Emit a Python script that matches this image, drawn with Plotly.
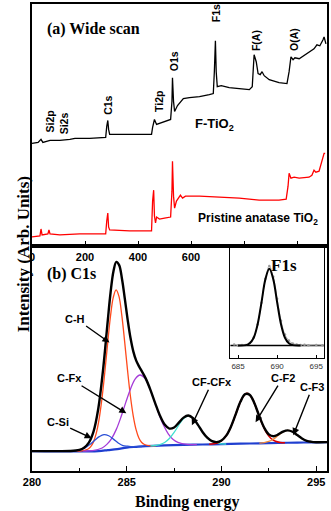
import plotly.graph_objects as go

# ---- (a) wide scan: binding energy (eV) vs intensity (arb.) ----
wide_be_f = [0, 23, 34, 41, 68, 105, 143, 162, 218, 278, 282, 286, 289, 293, 301, 368, 451, 455,
             462, 470, 481, 500, 523, 528, 530, 534, 538, 549, 560, 571, 594, 632, 669, 684, 688,
             692, 695, 699, 714, 744, 782, 820, 831, 838, 846, 853, 861, 868, 876, 895, 932, 962,
             970, 977, 985, 992, 1008, 1026, 1045, 1064, 1075, 1086, 1098, 1102, 1109]
wide_f = [103, 104, 107, 104, 106, 106, 107, 108, 108, 109, 120, 126, 117, 112, 112, 112, 112, 119,
          127, 122, 123, 125, 127, 145, 169, 145, 135, 141, 145, 148, 149, 150, 152, 153, 175,
          206, 175, 160, 161, 159, 158, 157, 160, 192, 185, 173, 172, 175, 171, 167, 164, 163,
          175, 190, 187, 189, 188, 191, 195, 198, 202, 201, 207, 210, 203]

wide_be_p = [0, 30, 34, 38, 60, 64, 68, 105, 180, 278, 282, 286, 289, 293, 368, 451, 455, 459,
             462, 466, 470, 481, 500, 523, 528, 530, 534, 538, 545, 560, 568, 579, 632, 707, 782,
             857, 932, 959, 966, 970, 977, 989, 1008, 1045, 1056, 1064, 1071, 1083, 1090, 1102, 1106]
wide_p = [9, 10, 17, 11, 12, 16, 12, 11, 12, 12, 25, 33, 19, 16, 15, 15, 45, 56,
          30, 23, 29, 27, 28, 29, 55, 85, 50, 38, 45, 51, 48, 50, 50, 49, 48,
          46, 46, 47, 60, 73, 68, 69, 68, 69, 71, 76, 74, 75, 82, 93, 93]

wide_labels = ["Si2p", "Si2s", "C1s", "Ti2p", "O1s", "F1s", "F(A)", "O(A)"]
wide_label_be = [68, 124, 284, 477, 534, 695, 846, 989]
wide_label_y = [125, 123, 141, 145, 185, 234, 206, 207]

# ---- (b) C1s fit ----
c1s_be = [280, 281, 282, 282.5, 282.75, 283, 283.25, 283.5, 283.75, 284, 284.15, 284.3, 284.45,
          284.6, 284.75, 284.9, 285.05, 285.2, 285.35, 285.5, 285.65, 285.8, 286, 286.25, 286.5,
          286.75, 287, 287.25, 287.5, 287.75, 288, 288.25, 288.5, 288.75, 289, 289.25, 289.5,
          289.75, 290, 290.25, 290.5, 290.75, 291, 291.25, 291.5, 291.75, 292, 292.25, 292.5,
          292.75, 293, 293.25, 293.5, 293.75, 294, 294.25, 294.5, 294.75, 295, 295.6]
c1s_envelope = [20, 20, 20.1, 21.2, 23.4, 28.5, 39.8, 62.7, 101.5, 151.3, 179.7, 200.6, 210.0,
                206.7, 192.8, 172.9, 151.8, 133.5, 119.9, 110.8, 105.0, 100.0, 93.0, 81.5, 68.2,
                55.7, 46.6, 42.6, 43.7, 48.5, 53.6, 55.7, 53.0, 46.6, 39.2, 33.4, 29.9,
                29.0, 30.7, 35.5, 44.5, 56.9, 69.5, 77.2, 76.4, 67.5, 54.8, 43.7, 36.8,
                34.9, 36.7, 39.5, 40.8, 39.4, 36.1, 32.7, 30.3, 29.3, 28.9, 29.0]

bg_be = [280, 283.5, 284, 284.5, 285, 285.5, 286, 287, 288, 289, 290, 291, 292, 293, 294, 295, 295.6]
bg = [20, 20, 21, 22, 23.5, 24.3, 25, 25.8, 26.3, 26.6, 27, 27.4, 27.8, 28.2, 28.5, 28.8, 29]

ch_be = [282.34, 282.64, 282.94, 283.09, 283.24, 283.39, 283.54, 283.69, 283.84, 283.99, 284.14,
         284.29, 284.44, 284.59, 284.74, 284.89, 285.04, 285.19, 285.34, 285.49, 285.64, 285.79,
         285.94, 286.24, 286.54]
ch = [20.0, 20.2, 21.8, 24.2, 29.0, 37.8, 51.9, 72.4, 98.6, 127.7, 154.9, 174.3, 181.9, 175.3,
      156.2, 129.9, 101.5, 75.8, 55.7, 41.8, 33.2, 28.6, 26.6, 25.3, 25.3]

cfx_be = [282.7, 283.2, 283.7, 283.95, 284.2, 284.45, 284.7, 284.95, 285.2, 285.45, 285.7, 285.95,
          286.2, 286.45, 286.7, 286.95, 287.2, 287.45, 287.7, 288.2, 288.7]
cfx = [20, 20.4, 23.1, 26.7, 32.6, 41.8, 54.4, 68.9, 82.4, 92.5, 96.4, 93.2, 83.7, 70.7, 57.2,
       45.6, 37.1, 31.7, 28.8, 26.7, 26.5]

csi_be = [281.8, 282.3, 282.55, 282.8, 283.05, 283.3, 283.55, 283.8, 284.05, 284.3, 284.55, 284.8,
          285.05, 285.3, 285.8]
csi = [20, 20.4, 21.3, 23.2, 26.5, 30.7, 34.5, 36.6, 35.4, 32.0, 28.2, 25.5, 24.9, 24.4, 24.6]

cfcfx_be = [286.25, 286.5, 286.75, 287.0, 287.25, 287.5, 287.75, 288.0, 288.25, 288.5, 288.75,
            289.0, 289.25, 289.5, 289.75, 290.0, 290.25]
cfcfx = [25.2, 25.6, 26.6, 28.6, 32.6, 38.7, 46.2, 52.7, 55.4, 52.9, 46.6, 39.2, 33.3, 29.6,
         27.9, 27.3, 27.1]

cf2_be = [289.35, 289.6, 289.85, 290.1, 290.35, 290.6, 290.85, 291.1, 291.35, 291.6, 291.85,
          292.1, 292.35, 292.6, 292.85, 293.1, 293.35]
cf2 = [26.8, 27.3, 28.7, 31.9, 38.5, 49.1, 62.1, 73.4, 78.0, 73.6, 62.5, 49.7, 39.3, 32.9,
       29.9, 28.7, 28.4]

cf3_be = [292.0, 292.25, 292.5, 292.75, 293.0, 293.25, 293.5, 293.75, 294.0, 294.25, 294.5,
          294.75, 295.0]
cf3 = [27.9, 28.5, 29.7, 32.2, 35.8, 39.3, 40.8, 39.4, 36.1, 32.7, 30.3, 29.3, 28.9]

# ---- inset F1s ----
f1s_be = [685, 686, 686.5, 687, 687.5, 688, 688.5, 689, 689.5, 690, 690.5, 691, 691.5, 692, 693]
f1s_fit = [13, 13.4, 15.2, 20.8, 34.2, 56.4, 79.7, 90, 79.7, 56.4, 34.2, 20.8, 15.2, 13.4, 13]
f1s_data_be = [684.5, 685, 685.5, 686, 686.5, 687, 687.5, 688, 688.5, 689, 689.5, 690, 690.5,
               691, 691.5, 692, 692.5, 693, 693.5, 694, 695, 695.8]
f1s_data = [14, 13, 13.5, 13.5, 15.5, 21, 34, 56, 80, 93, 82, 60, 38, 24, 18, 15, 14, 13.5,
            13.8, 13.2, 13.5, 13.2]
f1s_base_be = [684, 696]
f1s_base = [13, 13]

SANS = "Liberation Sans"
SERIF = "Liberation Serif"

fig = go.Figure()

# top panel
fig.add_trace(go.Scatter(x=wide_be_f, y=wide_f, mode='lines', line=dict(color='black', width=1.3),
                         xaxis='x', yaxis='y'))
fig.add_trace(go.Scatter(x=wide_be_p, y=wide_p, mode='lines', line=dict(color='#ff0000', width=1.3),
                         xaxis='x', yaxis='y'))

# bottom panel components
comp = [
    (bg_be, bg, '#1f3fd0', 2.2),
    (ch_be, ch, '#ff4a1c', 1.3),
    (cfx_be, cfx, '#a53bd8', 1.3),
    (csi_be, csi, '#2a4fd6', 1.3),
    (cfcfx_be, cfcfx, '#3fe0d0', 1.3),
    (cf2_be, cf2, '#e00000', 1.6),
    (cf3_be, cf3, '#f08a3c', 1.3),
]
for xs, ys, col, w in comp:
    fig.add_trace(go.Scatter(x=xs, y=ys, mode='lines', line=dict(color=col, width=w, shape='spline'),
                             xaxis='x2', yaxis='y2'))
fig.add_trace(go.Scatter(x=c1s_be, y=c1s_envelope, mode='lines',
                         line=dict(color='black', width=2.4, shape='spline'),
                         xaxis='x2', yaxis='y2'))

# inset
fig.add_trace(go.Scatter(x=f1s_base_be, y=f1s_base, mode='lines', line=dict(color='black', width=1.3),
                         xaxis='x3', yaxis='y3'))
fig.add_trace(go.Scatter(x=f1s_data_be, y=f1s_data, mode='lines+markers',
                         line=dict(color='#999999', width=0.8, shape='spline'),
                         marker=dict(size=2.5, color='#999999'), xaxis='x3', yaxis='y3'))
fig.add_trace(go.Scatter(x=f1s_be, y=f1s_fit, mode='lines', line=dict(color='black', width=2, shape='spline'),
                         xaxis='x3', yaxis='y3'))

axis_common = dict(showline=True, linecolor='black', linewidth=1.6, mirror=True,
                   showgrid=False, zeroline=False)
tickfont = dict(family=SANS, size=11, color='black', weight='bold')

anns = []
anns.append(dict(text="(a) Wide scan", x=49, y=218, xref='x', yref='y', xanchor='left',
                 showarrow=False, font=dict(family=SERIF, size=16, color='black', weight='bold')))
for t, bx, by in zip(wide_labels, wide_label_be, wide_label_y):
    anns.append(dict(text=t, x=bx, y=by, xref='x', yref='y', textangle=-90, showarrow=False,
                     font=dict(family=SANS, size=10.5, color='black', weight='bold')))
anns.append(dict(text="F-TiO<sub>2</sub>", x=688, y=122, xref='x', yref='y', showarrow=False,
                 font=dict(family=SANS, size=13, color='black', weight='bold')))
anns.append(dict(text="Pristine anatase TiO<sub>2</sub>", x=851, y=27, xref='x', yref='y', showarrow=False,
                 font=dict(family=SANS, size=12, color='black', weight='bold')))

anns.append(dict(text="(b) C1s", x=280.68, y=198, xref='x2', yref='y2', xanchor='left',
                 showarrow=False, font=dict(family=SERIF, size=16, color='black', weight='bold')))
arrow_labels = [("C-H", 284.09, 129, -34, -24), ("C-Fx", 284.98, 58, -57, -35),
                ("C-Si", 283.15, 33, -34, -16), ("CF-CFx", 288.44, 46, 20, -43),
                ("C-F2", 291.80, 49, 27, -44), ("C-F3", 293.79, 36, 19, -48)]
for t, hx, hy, ax, ay in arrow_labels:
    anns.append(dict(text=t, x=hx, y=hy, xref='x2', yref='y2', ax=ax, ay=ay, showarrow=True,
                     arrowhead=2, arrowsize=1, arrowwidth=1.4, arrowcolor='black',
                     font=dict(family=SANS, size=11, color='black', weight='bold')))

anns.append(dict(text="F1s", x=(300 - 32) / 296, y=(471 - 265) / 469, xref='paper', yref='paper',
                 showarrow=False, font=dict(family=SERIF, size=17, color='black', weight='bold')))
anns.append(dict(text="Intensity (Arb. Units)", x=-0.068, y=0.465, xref='paper', yref='paper',
                 textangle=-90, showarrow=False,
                 font=dict(family=SERIF, size=17, color='black', weight='bold')))
anns.append(dict(text="Binding energy", x=0.524, y=-0.066, xref='paper', yref='paper',
                 yanchor='middle', showarrow=False,
                 font=dict(family=SERIF, size=16, color='black', weight='bold')))

fig.update_layout(
    width=331, height=511,
    margin=dict(l=32, r=3, t=2, b=40),
    paper_bgcolor='white', plot_bgcolor='white',
    showlegend=False,
    xaxis=dict(domain=[0, 1], anchor='y', range=[0, 1113], tickvals=[0, 200, 400, 600, 800, 1000],
               ticks='inside', ticklen=5, tickwidth=1.4, tickcolor='black', tickfont=tickfont,
               **axis_common),
    yaxis=dict(domain=[0.482, 1], anchor='x', range=[0, 243], showticklabels=False, ticks='',
               **axis_common),
    xaxis2=dict(domain=[0, 1], anchor='y2', range=[280, 295.57], tickvals=[280, 285, 290, 295],
                ticks='inside', ticklen=5, tickwidth=1.4, tickcolor='black', tickfont=tickfont,
                minor=dict(ticks='inside', tickvals=[282.5, 287.5, 292.5], ticklen=3,
                           tickcolor='black', tickwidth=1.2),
                **axis_common),
    yaxis2=dict(domain=[0, 0.482], anchor='x2', range=[0, 226], showticklabels=False, ticks='',
                **axis_common),
    xaxis3=dict(domain=[0.672, 0.990], anchor='y3', range=[684, 696], tickvals=[685, 690, 695],
                ticks='inside', ticklen=3, tickcolor='black', tickwidth=1,
                tickfont=dict(family=SANS, size=8, color='#333333'),
                showline=True, linecolor='black', linewidth=1.2, mirror=True,
                showgrid=False, zeroline=False),
    yaxis3=dict(domain=[0.241, 0.4776], anchor='x3', range=[0, 111], showticklabels=False, ticks='',
                showline=True, linecolor='black', linewidth=1.2, mirror=True,
                showgrid=False, zeroline=False),
    annotations=anns,
)

# the page body has a default 8px margin; drop it so the figure sits at the window corner
fig.write_html("out.html", config={'displayModeBar': False},
               post_script="document.body.style.margin='0';")
